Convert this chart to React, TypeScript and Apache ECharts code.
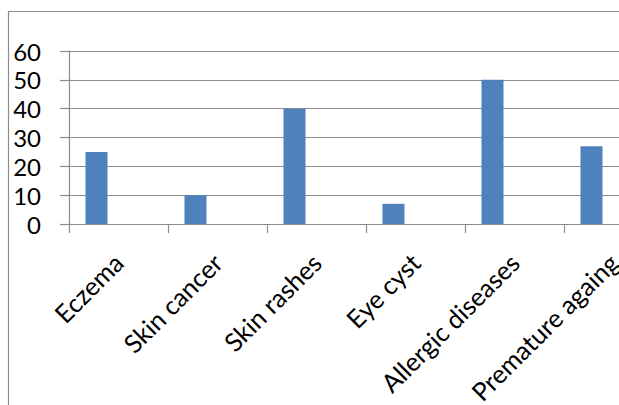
import React, { useEffect, useRef } from "react";
import * as echarts from "echarts";

const categories = ["Eczema", "Skin cancer", "Skin rashes", "Eye cyst", "Allergic diseases", "Premature againg"];
const series1 = [25, 10, 40, 7, 50, 27];
const series2: (number | null)[] = [null, null, null, null, null, null];
const series3: (number | null)[] = [null, null, null, null, null, null];
const yMin = 0;
const yMax = 60;
const yStep = 10;

export default function App() {
  const ref = useRef<HTMLDivElement>(null);
  useEffect(() => {
    if (!ref.current) return;
    const chart = echarts.init(ref.current, undefined, { renderer: "svg" });
    const font = "Lato, 'Open Sans', sans-serif";
    chart.setOption({
      animation: false,
      backgroundColor: "#ffffff",
      graphic: [
        {
          type: "rect",
          shape: { x: 8.5, y: 11.5, width: 900, height: 900 },
          style: { fill: "none", stroke: "#8c8c8c", lineWidth: 1.2 },
          silent: true,
        },
      ],
      grid: { left: 69, top: 51, width: 594, height: 173, containLabel: false },
      xAxis: {
        type: "category",
        data: categories,
        boundaryGap: true,
        axisLine: { show: true, lineStyle: { color: "#8c8c8c", width: 1.2 } },
        axisTick: { show: true, length: 9, alignWithLabel: false, lineStyle: { color: "#8c8c8c", width: 1.2 } },
        axisLabel: {
          interval: 0,
          rotate: 45,
          margin: 34,
          color: "#000",
          fontFamily: font,
          fontSize: 25.5,
        },
        splitLine: { show: false },
      },
      yAxis: {
        type: "value",
        min: yMin,
        max: yMax,
        interval: yStep,
        axisLine: { show: true, lineStyle: { color: "#8c8c8c", width: 1.2 } },
        axisTick: { show: true, length: 9, lineStyle: { color: "#8c8c8c", width: 1.2 } },
        axisLabel: { margin: 28, color: "#000", fontFamily: font, fontSize: 24 },
        splitLine: { show: true, lineStyle: { color: "#8c8c8c", width: 1.2 } },
      },
      series: [
        { type: "bar", name: "Series 1", data: series1, itemStyle: { color: "#4F81BD" }, barGap: "0%", barCategoryGap: "33.3%" },
        { type: "bar", name: "Series 2", data: series2, itemStyle: { color: "#C0504D" }, barGap: "0%", barCategoryGap: "33.3%" },
        { type: "bar", name: "Series 3", data: series3, itemStyle: { color: "#9BBB59" }, barGap: "0%", barCategoryGap: "33.3%" },
      ],
    });
    return () => chart.dispose();
  }, []);
  return (
    <div style={{ position: "fixed", left: 0, top: 0, width: 619, height: 405, overflow: "hidden", background: "#fff" }}>
      <div ref={ref} style={{ position: "absolute", left: 0, top: 0, width: 760, height: 480 }} />
    </div>
  );
}
